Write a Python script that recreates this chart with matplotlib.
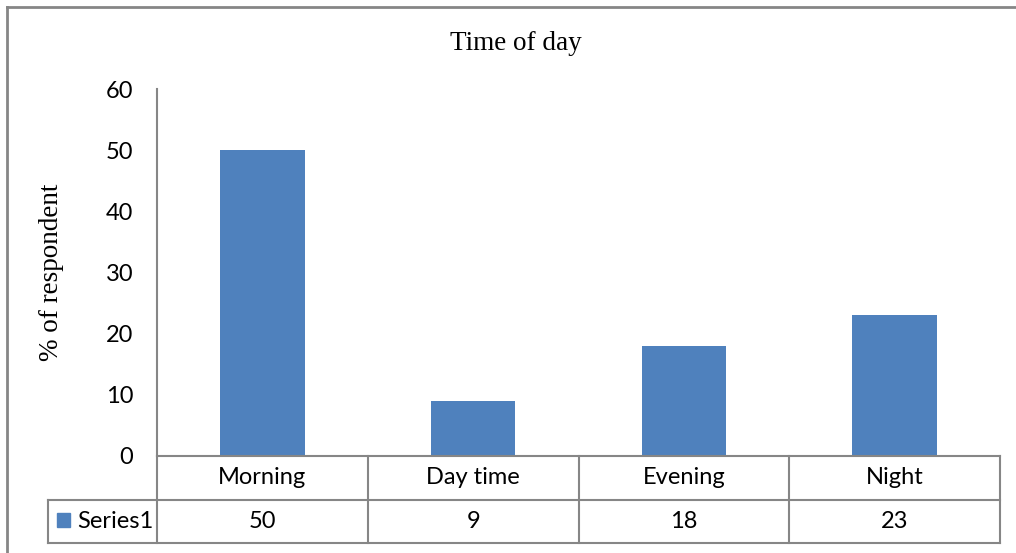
import numpy as np
import matplotlib.pyplot as plt
from matplotlib.lines import Line2D
from matplotlib.patches import Rectangle

# data
categories = ['Morning', 'Day time', 'Evening', 'Night']
series_name = 'Series1'
values = [50, 9, 18, 23]
yticks = [0, 10, 20, 30, 40, 50, 60]

# colours
barBlue = '#4F81BD'
gridGrey = '#868686'

sansFont = 'Lato'
serifFont = 'Liberation Serif'
sansSize = 17
serifSize = 19.5

W, H = 1016, 553
fig = plt.figure(figsize=(W / 100, H / 100), dpi=100)

# plot area in pixels
x0, x1 = 157, 1000
yTop, yBot = 89, 456
ax = fig.add_axes([x0 / W, (H - yBot) / H, (x1 - x0) / W, (yBot - yTop) / H])

xpos = np.arange(len(categories))
ax.bar(xpos, values, width=0.4, color=barBlue, edgecolor='none')
ax.set_xlim(-0.5, len(categories) - 0.5)
ax.set_ylim(0, 60)
ax.set_yticks(yticks)
ax.set_yticklabels([str(t) for t in yticks], fontsize=sansSize, family=sansFont)
ax.tick_params(axis='y', length=0, pad=17)
ax.set_xticks([])
for s in ['top', 'right', 'bottom']:
    ax.spines[s].set_visible(False)
ax.spines['left'].set_color(gridGrey)
ax.spines['left'].set_linewidth(1.5)

# data table under the axis, drawn in pixel coordinates
def px(x, y):
    return x / W, (H - y) / H

def hline(xa, xb, y):
    (fa, fy), (fb, _) = px(xa, y), px(xb, y)
    fig.add_artist(Line2D([fa, fb], [fy, fy], color=gridGrey, lw=1.5))

def vline(x, ya, yb):
    (fx, fa), (_, fb) = px(x, ya), px(x, yb)
    fig.add_artist(Line2D([fx, fx], [fa, fb], color=gridGrey, lw=1.5))

row1, row2, row3 = 456, 500, 543
hdrLeft = 48
colW = (x1 - x0) / len(categories)

hline(x0, x1, row1)
hline(hdrLeft, x1, row2)
hline(hdrLeft, x1, row3)
vline(hdrLeft, row2, row3)
for k in range(len(categories) + 1):
    vline(x0 + k * colW, row1, row3)

for k, (cat, v) in enumerate(zip(categories, values)):
    cx = x0 + (k + 0.5) * colW
    fig.text(*px(cx, (row1 + row2) / 2), cat, ha='center', va='center',
             fontsize=sansSize, family=sansFont)
    fig.text(*px(cx, (row2 + row3) / 2), str(v), ha='center', va='center',
             fontsize=sansSize, family=sansFont)

# legend key in the row header
kx, ky = px(57, 527)
fig.add_artist(Rectangle((kx, ky), 13 / W, 14 / H, color=barBlue,
                         transform=fig.transFigure))
fig.text(*px(77, (row2 + row3) / 2), series_name, ha='left', va='center',
         fontsize=sansSize, family=sansFont)

# title and axis label
fig.text(*px(516, 44), 'Time of day', ha='center', va='center',
         fontsize=serifSize, family=serifFont)
fig.text(*px(52, 272), '% of respondent', ha='center', va='center',
         rotation=90, fontsize=serifSize, family=serifFont)

# chart frame (left and top edges visible)
fig.add_artist(Line2D([7 / W, 7 / W], [0, (H - 7) / H], color=gridGrey, lw=2))
fig.add_artist(Line2D([7 / W, 1], [(H - 7) / H, (H - 7) / H], color=gridGrey, lw=2))

fig.savefig('out.png', dpi=100)
